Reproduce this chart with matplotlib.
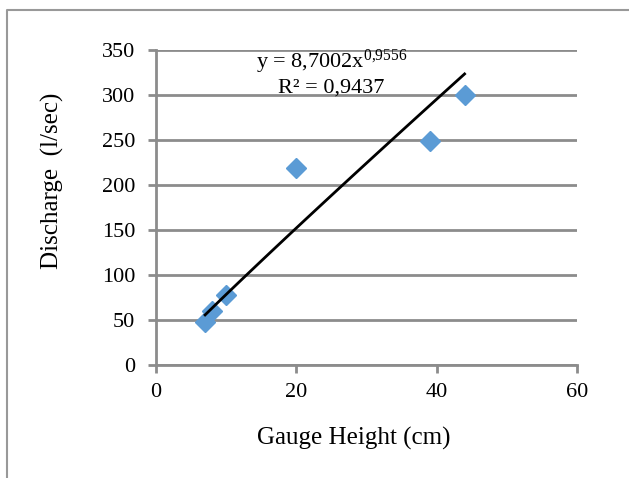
import numpy as np
import matplotlib
matplotlib.use('Agg')
import matplotlib.pyplot as plt
from matplotlib.lines import Line2D

gauge_height = [7, 8, 10, 20, 39, 44]
discharge = [48, 60, 78, 219, 249, 300]
coef_a = 8.7002
coef_b = 0.9556
r_squared = '0,9437'

plt.rcParams['font.family'] = ['Liberation Serif', 'DejaVu Serif']
plt.rcParams['mathtext.fontset'] = 'custom'
plt.rcParams['mathtext.rm'] = 'Liberation Serif'
plt.rcParams['mathtext.it'] = 'Liberation Serif'

fig = plt.figure(figsize=(6.29, 4.78), dpi=100)
ax = fig.add_axes([0.248, 0.236, 0.669, 0.659])

grid_col = '#8c8c8c'
ax.set_xlim(0, 60)
ax.set_ylim(0, 350)
ax.set_xticks([0, 20, 40, 60])
ax.set_yticks(range(0, 351, 50))
ax.yaxis.grid(True, color=grid_col, linewidth=2)
ax.set_axisbelow(True)
for s in ['top', 'right']:
    ax.spines[s].set_visible(False)
for s in ['left', 'bottom']:
    ax.spines[s].set_color(grid_col)
    ax.spines[s].set_linewidth(2)
ax.tick_params(axis='both', color=grid_col, width=2, length=6, labelsize=16)
ax.tick_params(axis='y', pad=9)
ax.tick_params(axis='x', pad=7)

ax.plot(gauge_height, discharge, 'D', color='#5b9bd5', markersize=10, zorder=3)

xs = np.linspace(min(gauge_height), max(gauge_height), 100)
ax.plot(xs, coef_a * xs ** coef_b, color='black', linewidth=2, zorder=4)

ax.text(25, 337, r'y = 8,7002x$^{\mathrm{0{,}9556}}$', fontsize=16, ha='center', va='center')
ax.text(25, 308, 'R² = ' + r_squared, fontsize=16, ha='center', va='center')

ax.set_xlabel('Gauge Height (cm)', fontsize=18, va='center')
ax.set_ylabel('Discharge  (l/sec)', fontsize=18, va='center')
ax.xaxis.set_label_coords(0.47, -0.232)
ax.yaxis.set_label_coords(-0.245, 0.584)

fig.add_artist(Line2D([7/629, 7/629, 1], [0, 1 - 10/478, 1 - 10/478],
                      color='#999999', linewidth=1.5, transform=fig.transFigure))

fig.savefig('out.png', dpi=100)
